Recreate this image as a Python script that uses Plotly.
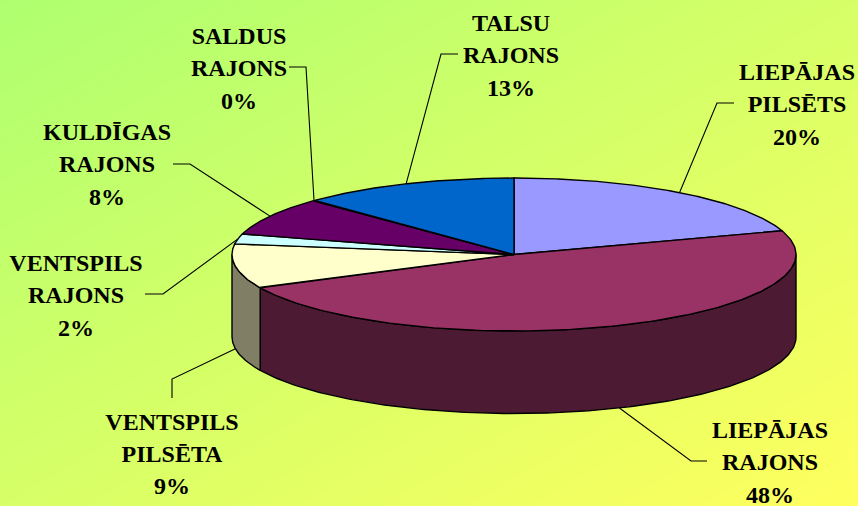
import numpy as np
import plotly.graph_objects as go

# --- data ---
categories = [
    ["LIEPĀJAS", "PILSĒTS"],
    ["LIEPĀJAS", "RAJONS"],
    ["VENTSPILS", "PILSĒTA"],
    ["VENTSPILS", "RAJONS"],
    ["KULDĪGAS", "RAJONS"],
    ["SALDUS", "RAJONS"],
    ["TALSU", "RAJONS"],
]
values = [20.0, 47.9, 9.4, 2.1, 8.1, 0.1, 12.51]
top_colors = ["#9999FF", "#993366", "#FFFFCC", "#CCFFFF", "#660066", "#FF8080", "#0066CC"]
wall_colors = ["#4D4D80", "#4C1B33", "#807F66", "#668080", "#330033", "#804040", "#003366"]

# --- layout constants (pixels) ---
W, H = 858, 506
CX, CY, RX, RY, DEPTH = 514, 254.5, 282, 76.5, 82.5
label_x = [797, 770, 172, 76, 107, 239, 511]
label_y = [74, 432, 423.5, 265, 134, 38, 25]
LINE_STEP = 32.3
elbows = [
    [(717, 103), (734, 103)],
    [(691, 461), (707, 461)],
    [(172, 379), (172, 398)],
    [(163, 294), (145, 294)],
    [(190, 164), (173, 164)],
    [(306, 67), (289, 67)],
    [(441, 54), (458, 54)],
]
# leader anchored on the lower rim for slices whose label sits under the pie
on_lower_rim = [False, True, True, False, False, False, False]


def rim(deg, drop=0.0):
    a = np.radians(deg)
    return CX + RX * np.sin(a), CY - RY * np.cos(a) + drop


fig = go.Figure()

# background gradient
fig.add_trace(go.Heatmap(
    x=[0, W], y=[0, H], z=[[0, 0.5], [0.5, 1]], zmin=0, zmax=1, zsmooth="best",
    colorscale=[[0, "#AEFF70"], [1, "#FFFF5E"]], showscale=False, hoverinfo="skip",
))

total = sum(values)
edges = np.cumsum([0] + values) / total * 360.0

# side walls
for i in range(len(values)):
    a0, a1 = max(edges[i], 90.0), min(edges[i + 1], 270.0)
    if a1 <= a0:
        continue
    t = np.linspace(a0, a1, 160)
    xt, yt = rim(t)
    xb, yb = rim(t, DEPTH)
    fig.add_trace(go.Scatter(
        x=np.r_[xt, xb[::-1], xt[0]], y=np.r_[yt, yb[::-1], yt[0]],
        mode="lines", fill="toself", fillcolor=wall_colors[i],
        line=dict(color="black", width=1.4), hoverinfo="skip", showlegend=False,
    ))

# top faces
for i in range(len(values)):
    t = np.linspace(edges[i], edges[i + 1], 160)
    xt, yt = rim(t)
    fig.add_trace(go.Scatter(
        x=np.r_[CX, xt, CX], y=np.r_[CY, yt, CY],
        mode="lines", fill="toself", fillcolor=top_colors[i],
        line=dict(color="black", width=1.4), hoverinfo="skip", showlegend=False,
    ))

# leader lines and labels
for i, name in enumerate(categories):
    mid = (edges[i] + edges[i + 1]) / 2
    sx, sy = rim(mid, DEPTH if on_lower_rim[i] else 0.0)
    pts = [(sx, sy)] + elbows[i]
    fig.add_trace(go.Scatter(
        x=[p[0] for p in pts], y=[p[1] for p in pts], mode="lines",
        line=dict(color="black", width=1.1), hoverinfo="skip", showlegend=False,
    ))
    lines = name + [f"{round(values[i])}%"]
    fig.add_trace(go.Scatter(
        x=[label_x[i]] * 3,
        y=[label_y[i] + k * LINE_STEP for k in range(3)],
        mode="text", text=lines, textposition="middle center",
        textfont=dict(family="Liberation Serif", size=24, color="black", weight="bold"),
        hoverinfo="skip", showlegend=False, cliponaxis=False,
    ))

fig.update_layout(
    width=W, height=H, margin=dict(l=0, r=0, t=0, b=0), showlegend=False,
    paper_bgcolor="#D8FF68", plot_bgcolor="rgba(0,0,0,0)",
    xaxis=dict(range=[0, W], visible=False, fixedrange=True),
    yaxis=dict(range=[H, 0], visible=False, fixedrange=True),
)
fig.write_html(
    "out.html", config={"displayModeBar": False},
    post_script="document.body.style.margin='0';document.body.style.overflow='hidden';",
)
